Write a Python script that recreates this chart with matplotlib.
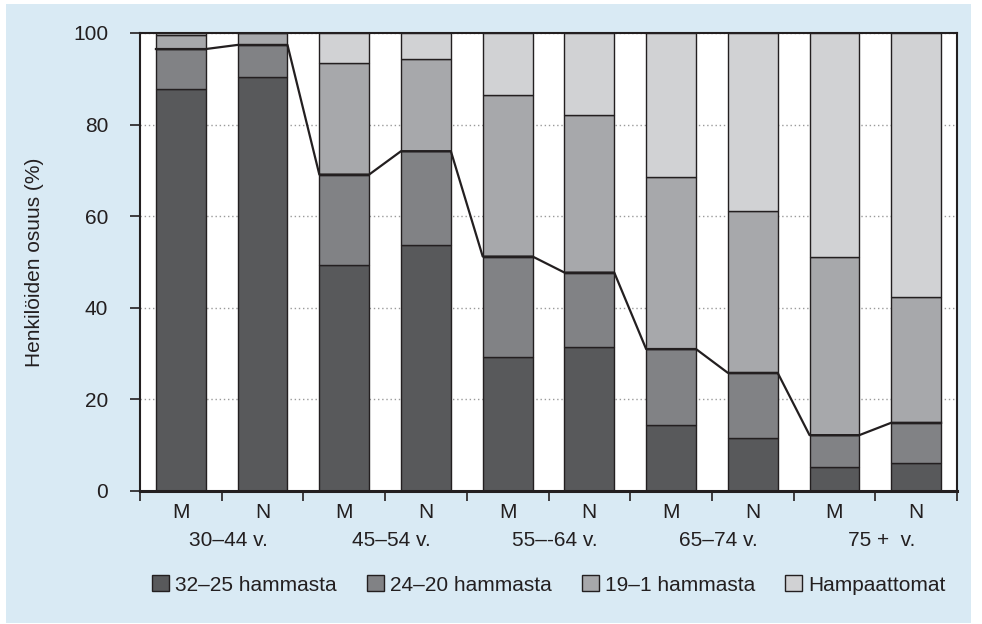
import matplotlib
matplotlib.use("Agg")
import matplotlib.pyplot as plt
from matplotlib.patches import Patch, Rectangle
import matplotlib.transforms as mtransforms
import numpy as np

plt.rcParams['font.family'] = ['Liberation Sans', 'DejaVu Sans']

sexes = ["M", "N", "M", "N", "M", "N", "M", "N", "M", "N"]
age_groups = ["30–44 v.", "45–54 v.", "55–-64 v.", "65–74 v.", "75 +  v."]
series_names = ["32–25 hammasta", "24–20 hammasta", "19–1 hammasta", "Hampaattomat"]
teeth_32_25 = [87.8, 90.4, 49.3, 53.7, 29.3, 31.5, 14.5, 11.5, 5.3, 6.2]
teeth_24_20 = [8.7, 7.0, 19.8, 20.5, 21.9, 16.2, 16.5, 14.3, 6.9, 8.7]
teeth_19_1 = [3.0, 2.5, 24.4, 20.1, 35.3, 34.4, 37.6, 35.4, 39.0, 27.5]
toothless = [0.5, 0.1, 6.5, 5.7, 13.5, 17.9, 31.4, 38.8, 48.8, 57.6]
yticks = [0, 20, 40, 60, 80, 100]

colors = ["#58595b", "#818285", "#a7a8ab", "#d1d2d4"]
edge = "#231f20"
bg = "#d9eaf4"
fs = 15

fig = plt.figure(figsize=(9.82, 6.24), dpi=100)
fig.patch.set_facecolor("white")
fig.patches.append(Rectangle((6 / 982, 1 - 623 / 624), 965 / 982, 619 / 624,
                             transform=fig.transFigure, facecolor=bg,
                             edgecolor="none", zorder=-10))

ax = fig.add_axes([140 / 982, 1 - 491 / 624, 817 / 982, 458 / 624])
ax.set_facecolor("white")

n = len(sexes)
x = np.arange(n) + 0.5
w = 0.61
series = [teeth_32_25, teeth_24_20, teeth_19_1, toothless]
bottom = np.zeros(n)
for vals, c in zip(series, colors):
    ax.bar(x, vals, width=w, bottom=bottom, color=c, edgecolor=edge,
           linewidth=1.0, zorder=2)
    bottom = bottom + np.array(vals)

# line connecting tops of second segment
tops = np.array(teeth_32_25) + np.array(teeth_24_20)
lx, ly = [], []
for xi, t in zip(x, tops):
    lx += [xi - w / 2, xi + w / 2]
    ly += [t, t]
ax.plot(lx, ly, color=edge, lw=1.6, zorder=3)

ax.set_xlim(0, n)
ax.set_ylim(0, 100)
ax.set_yticks(yticks)
ax.tick_params(axis='y', labelsize=fs, length=7, width=1.2, direction='out',
               colors=edge, labelcolor="#231f20", pad=16)
ax.set_xticks(np.arange(n + 1))
ax.set_xticklabels([])
ax.tick_params(axis='x', which='major', length=7, width=1.2, direction='out', colors=edge)
ax.set_xticks(x, minor=True)
ax.set_xticklabels(sexes, minor=True)
ax.tick_params(axis='x', which='minor', length=0, labelsize=fs, pad=9, labelcolor="#231f20")

ax.yaxis.grid(True, linestyle=(0, (1, 2)), color="#9a9a9a", lw=1.0, zorder=0)
ax.set_axisbelow(True)

for s in ["top", "right", "left"]:
    ax.spines[s].set_color(edge)
    ax.spines[s].set_linewidth(1.5)
ax.spines["bottom"].set_color(edge)
ax.spines["bottom"].set_linewidth(2.2)

ax.set_ylabel("Henkilöiden osuus (%)", fontsize=fs, color="#231f20", labelpad=21)

trans = mtransforms.blended_transform_factory(ax.transData, fig.transFigure)
for i, g in enumerate(age_groups):
    ax.text(2 * i + 1.08, 1 - 541 / 624, g, transform=trans, ha="center",
            va="center", fontsize=fs, color="#231f20")

handles = [Patch(facecolor=c, edgecolor=edge, linewidth=1.0) for c in colors]
fig.legend(handles, series_names, loc="center", ncol=4, frameon=False,
           bbox_to_anchor=(549 / 982, 1 - 585 / 624), fontsize=fs,
           handlelength=0.8, handleheight=0.8, handletextpad=0.3,
           columnspacing=1.45, labelcolor="#231f20")

fig.savefig("out.png", dpi=100, facecolor=fig.get_facecolor())
